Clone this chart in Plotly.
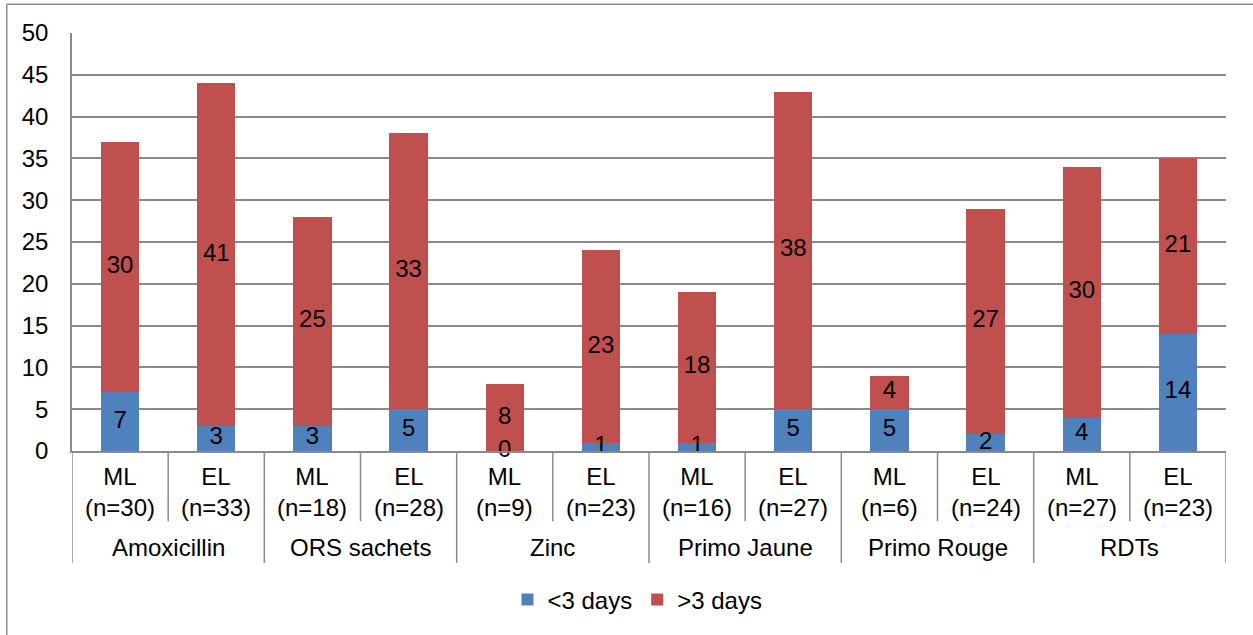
import plotly.graph_objects as go

# Medicines / tests and the two facility levels for each
products = ["Amoxicillin", "ORS sachets", "Zinc", "Primo Jaune", "Primo Rouge", "RDTs"]
levels = ["ML", "EL"]
sample_sizes = [30, 33, 18, 28, 9, 23, 16, 27, 6, 24, 27, 23]

# Counts per bar (ML, EL for each product in order)
under_3_days = [7, 3, 3, 5, 0, 1, 1, 5, 5, 2, 4, 14]
over_3_days = [30, 41, 25, 33, 8, 23, 18, 38, 4, 27, 30, 21]

y_ticks = list(range(0, 51, 5))

BLUE = "#4F81BD"
RED = "#C0504D"
GRID = "#8A8A8A"
FONT = "Liberation Sans, Arial, sans-serif"
FS = 24

n_bars = len(under_3_days)
xs = list(range(n_bars))

fig = go.Figure()
fig.add_trace(go.Bar(x=xs, y=under_3_days, name="<3 days", marker_color=BLUE,
                     marker_line_width=0, width=0.4))
fig.add_trace(go.Bar(x=xs, y=over_3_days, name=">3 days", marker_color=RED,
                     marker_line_width=0, width=0.4))

# Centered value labels in each stacked segment
lab_x, lab_y, lab_t = [], [], []
for i in xs:
    lab_x.append(i)
    lab_y.append(under_3_days[i] / 2)
    lab_t.append(str(under_3_days[i]))
    lab_x.append(i)
    lab_y.append(under_3_days[i] + over_3_days[i] / 2)
    lab_t.append(str(over_3_days[i]))
fig.add_trace(go.Scatter(x=lab_x, y=lab_y, text=lab_t, mode="text",
                         textposition="middle center",
                         textfont=dict(size=FS, color="black", family=FONT),
                         showlegend=False, hoverinfo="skip", cliponaxis=False))

shapes = []
annotations = []

# Two-level category axis: inner labels, group labels and divider lines
for i in xs:
    lvl = levels[i % 2]
    annotations.append(dict(x=i, y=-0.099, xref="x", yref="paper",
                            text=f"{lvl}<br>(n={sample_sizes[i]})", showarrow=False,
                            font=dict(size=FS, color="black", family=FONT),
                            xanchor="center", yanchor="middle"))
for g, name in enumerate(products):
    annotations.append(dict(x=2 * g + 0.5, y=-0.232, xref="x", yref="paper",
                            text=name, showarrow=False,
                            font=dict(size=FS, color="black", family=FONT),
                            xanchor="center", yanchor="middle"))
for k in range(n_bars + 1):
    y1 = -0.268 if k % 2 == 0 else -0.168
    shapes.append(dict(type="line", xref="x", yref="paper", x0=k - 0.5, x1=k - 0.5,
                       y0=0, y1=y1, line=dict(color=GRID, width=1.5)))

# Chart-area border (top and left edges)
BORDER = dict(color="#8C8C8C", width=1.5)
shapes.append(dict(type="line", xref="paper", yref="paper", x0=-0.0565, x1=1.1,
                   y0=1.069, y1=1.069, line=BORDER))
shapes.append(dict(type="line", xref="paper", yref="paper", x0=-0.0565, x1=-0.0565,
                   y0=1.069, y1=-0.6, line=BORDER))

fig.update_layout(
    barmode="stack",
    width=1253, height=635,
    margin=dict(l=72, r=27, t=33, b=184),
    paper_bgcolor="white", plot_bgcolor="white",
    font=dict(family=FONT, size=FS, color="black"),
    showlegend=True,
    legend=dict(orientation="h", x=0.49, xanchor="center", y=-0.356, yanchor="middle",
                font=dict(size=FS, family=FONT, color="black"), itemwidth=30,
                traceorder="normal"),
    xaxis=dict(range=[-0.5, n_bars - 0.5], showticklabels=False, showgrid=False,
               zeroline=False, showline=True, linecolor=GRID, linewidth=1.5, ticks=""),
    yaxis=dict(range=[0, 50], tickvals=y_ticks, showgrid=True, gridcolor=GRID,
               gridwidth=1.5, zeroline=False, showline=True, linecolor=GRID,
               linewidth=1.5, ticks="", ticklabelstandoff=17,
               tickfont=dict(size=FS, family=FONT, color="black")),
    shapes=shapes,
    annotations=annotations,
    hovermode=False,
)

fig.write_html("out.html", config={"displayModeBar": False})
